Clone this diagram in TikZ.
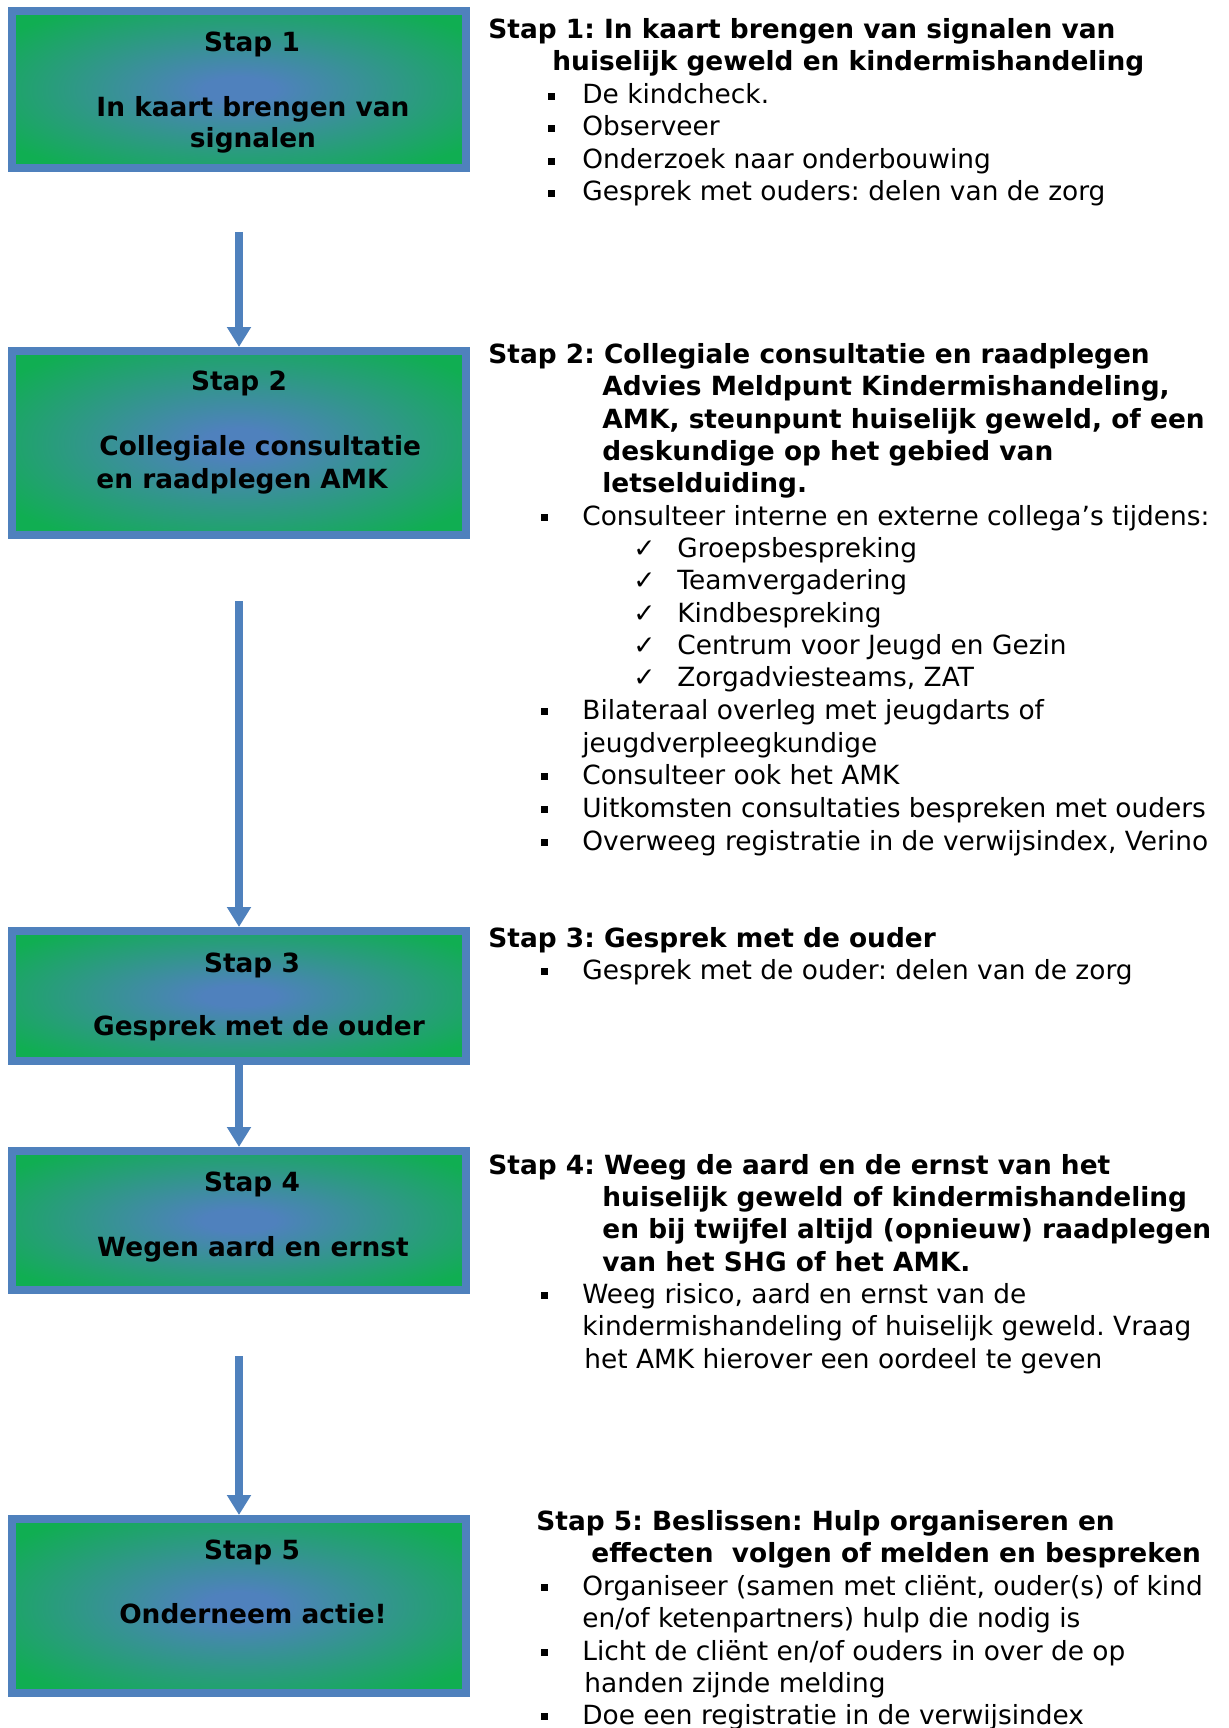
\documentclass[tikz,border=0pt]{standalone}
\usepackage{fontspec}
\setmainfont{DejaVu Sans}
\usetikzlibrary{arrows.meta}
\definecolor{stepblue}{RGB}{79,129,189}
\definecolor{stepgreen}{RGB}{16,174,82}
\pgfdeclareradialshading{boxgrad}{\pgfpoint{0bp}{0bp}}{color(0bp)=(stepblue); color(4bp)=(stepblue); color(31bp)=(stepgreen); color(50bp)=(stepgreen)}
\newcommand{\sqbul}{\rule[2.2pt]{3.2pt}{3.2pt}}
\frenchspacing
\begin{document}
\begin{tikzpicture}[x=0.5pt,y=-0.5pt,
  stepbox/.style={draw=stepblue, line width=4pt, shading=boxgrad, minimum width=227pt, inner sep=0pt},
  flow/.style={stepblue, line width=4pt, -{Triangle[width=11.5pt,length=10pt]}},
  boxtxt/.style={font=\fontsize{13.2}{16}\selectfont\bfseries, anchor=base, inner sep=0pt},
  boxtxtl/.style={font=\fontsize{13.2}{16}\selectfont\bfseries, anchor=base west, inner sep=0pt},
  head/.style={font=\fontsize{13.2}{16}\selectfont\bfseries, anchor=base west, inner sep=0pt},
  body/.style={font=\fontsize{13.2}{16}\selectfont, anchor=base west, inner sep=0pt},
  bul/.style={font=\fontsize{13.2}{16}\selectfont, anchor=base west, inner sep=0pt},
]
\useasboundingbox (0,0) rectangle (1228,1728);
\fill[white] (0,0) rectangle (1228,1728);

% boxes
\node[stepbox, minimum height=78.5pt] (b1) at (239,89.5) {};
\node[stepbox, minimum height=92pt]   (b2) at (239,443) {};
\node[stepbox, minimum height=65pt]   (b3) at (239,996) {};
\node[stepbox, minimum height=69.5pt] (b4) at (239,1220.5) {};
\node[stepbox, minimum height=87pt]   (b5) at (239,1606) {};

% box texts
\node[boxtxt] (b1a) at (252,52) {Stap 1};
\node[boxtxt] (b1b) at (253,117) {In kaart brengen van};
\node[boxtxt] (b1c) at (253,148) {signalen};
\node[boxtxt] (b2a) at (239,390) {Stap 2};
\node[boxtxtl] (b2b) at (99,455) {Collegiale consultatie};
\node[boxtxtl] (b2c) at (96,488) {en raadplegen AMK};
\node[boxtxt] (b3a) at (252,972) {Stap 3};
\node[boxtxt] (b3b) at (259,1035) {Gesprek met de ouder};
\node[boxtxt] (b4a) at (252,1191) {Stap 4};
\node[boxtxt] (b4b) at (253,1256) {Wegen aard en ernst};
\node[boxtxt] (b5a) at (252,1559) {Stap 5};
\node[boxtxt] (b5b) at (253,1623) {Onderneem actie!};

% arrows
\coordinate (a1) at (239,232);
\coordinate (a2) at (239,601);
\coordinate (a4) at (239,1356);
\draw[flow] (a1) -- (b2.north);
\draw[flow] (a2) -- (b3.north);
\draw[flow] (b3.south) -- (b4.north);
\draw[flow] (a4) -- (b5.north);

% block 1
\node[head] (h1a) at (488,39) {Stap 1: In kaart brengen van signalen van};
\node[head] (h1b) at (552,71) {huiselijk geweld en kindermishandeling};
\node[bul] (p1a) at (548,104) {\sqbul};
\node[body] (l1a) at (582,104) {De kindcheck.};
\node[bul] (p1b) at (548,136) {\sqbul};
\node[body] (l1b) at (582,136) {Observeer};
\node[bul] (p1c) at (548,169) {\sqbul};
\node[body] (l1c) at (582,169) {Onderzoek naar onderbouwing};
\node[bul] (p1d) at (548,201) {\sqbul};
\node[body] (l1d) at (582,201) {Gesprek met ouders: delen van de zorg};

% block 2
\node[head] (h2a) at (488,363) {Stap 2: Collegiale consultatie en raadplegen};
\node[head] (h2b) at (602,395) {Advies Meldpunt Kindermishandeling,};
\node[head] (h2c) at (602,428) {AMK, steunpunt huiselijk geweld, of een};
\node[head] (h2d) at (602,460) {deskundige op het gebied van};
\node[head] (h2e) at (602,492) {letselduiding.};
\node[bul] (p2a) at (541,525) {\sqbul};
\node[body] (l2a) at (582,525) {Consulteer interne en externe collega’s tijdens:};
\node[bul] (c2a) at (633,557) {✓};
\node[body] (m2a) at (677,557) {Groepsbespreking};
\node[bul] (c2b) at (633,589) {✓};
\node[body] (m2b) at (677,589) {Teamvergadering};
\node[bul] (c2c) at (633,622) {✓};
\node[body] (m2c) at (677,622) {Kindbespreking};
\node[bul] (c2d) at (633,654) {✓};
\node[body] (m2d) at (677,654) {Centrum voor Jeugd en Gezin};
\node[bul] (c2e) at (633,686) {✓};
\node[body] (m2e) at (677,686) {Zorgadviesteams, ZAT};
\node[bul] (p2b) at (541,719) {\sqbul};
\node[body] (l2b) at (582,719) {Bilateraal overleg met jeugdarts of};
\node[body] (l2c) at (582,752) {jeugdverpleegkundige};
\node[bul] (p2c) at (541,784) {\sqbul};
\node[body] (l2d) at (582,784) {Consulteer ook het AMK};
\node[bul] (p2d) at (541,817) {\sqbul};
\node[body] (l2e) at (582,817) {Uitkomsten consultaties bespreken met ouders};
\node[bul] (p2e) at (541,850) {\sqbul};
\node[body] (l2f) at (582,850) {Overweeg registratie in de verwijsindex, Verino};

% block 3
\node[head] (h3a) at (488,947) {Stap 3: Gesprek met de ouder};
\node[bul] (p3a) at (541,979) {\sqbul};
\node[body] (l3a) at (582,979) {Gesprek met de ouder: delen van de zorg};

% block 4
\node[head] (h4a) at (488,1174) {Stap 4: Weeg de aard en de ernst van het};
\node[head] (h4b) at (602,1206) {huiselijk geweld of kindermishandeling};
\node[head] (h4c) at (602,1238) {en bij twijfel altijd (opnieuw) raadplegen};
\node[head] (h4d) at (602,1271) {van het SHG of het AMK.};
\node[bul] (p4a) at (541,1303) {\sqbul};
\node[body] (l4a) at (582,1303) {Weeg risico, aard en ernst van de};
\node[body] (l4b) at (582,1335) {kindermishandeling of huiselijk geweld. Vraag};
\node[body] (l4c) at (584,1368) {het AMK hierover een oordeel te geven};

% block 5
\node[head] (h5a) at (536,1530) {Stap 5: Beslissen: Hulp organiseren en};
\node[head] (h5b) at (591,1562) {effecten~ volgen of melden en bespreken};
\node[bul] (p5a) at (541,1595) {\sqbul};
\node[body] (l5a) at (582,1595) {Organiseer (samen met cliënt, ouder(s) of kind};
\node[body] (l5b) at (582,1627) {en/of ketenpartners) hulp die nodig is};
\node[bul] (p5b) at (541,1660) {\sqbul};
\node[body] (l5c) at (582,1660) {Licht de cliënt en/of ouders in over de op};
\node[body] (l5d) at (584,1692) {handen zijnde melding};
\node[bul] (p5c) at (541,1724) {\sqbul};
\node[body] (l5e) at (582,1724) {Doe een registratie in de verwijsindex};
\end{tikzpicture}
\end{document}
